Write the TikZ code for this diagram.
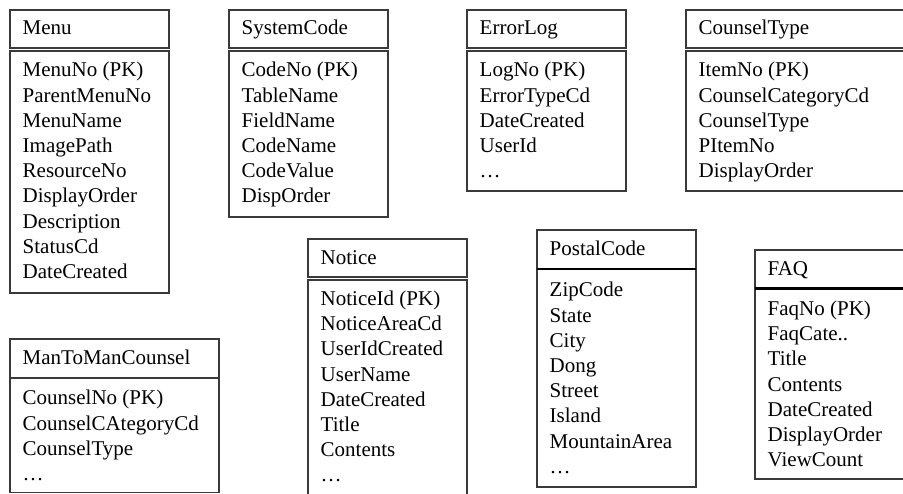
\documentclass[tikz,border=0pt]{standalone}
\usepackage{fontspec}
\setmainfont{Liberation Serif}
\definecolor{boxline}{HTML}{3A3A3A}
\newcommand\entryfont{\fontsize{21}{25}\selectfont}
\tikzset{
  tblframe/.style={draw=boxline, line width=1.3pt, inner sep=0pt, outer sep=0pt, anchor=north west},
  headrule/.style={draw=black, line width=2.6pt},
  entry/.style={anchor=base west, inner sep=0pt, font=\entryfont, text=black},
}
% one table frame: name, left, top, width, height
\newcommand\tblbox[5]{\node[tblframe, minimum width=#4, minimum height=#5] (#1) at (#2,#3) {};}
% field rows: name prefix, text left, first baseline, list of fields
\newcommand\tblrows[4]{\foreach \f [count=\i] in {#4}{\node[entry] (#1-\i) at (#2,{#3+(\i-1)*25.2}) {\f};}}
\begin{document}
\begin{tikzpicture}[x=1pt,y=-1pt]
\useasboundingbox (0,0) rectangle (903,494);
\clip (0,0) rectangle (903,494);

% Menu
\tblbox{menu-head}{10}{10}{159}{38}
\tblbox{menu-body}{10}{51}{159}{242}
\node[entry] (menu-title) at (22.5,35) {Menu};
\tblrows{menu}{22.5}{77}{MenuNo (PK),ParentMenuNo,MenuName,ImagePath,ResourceNo,DisplayOrder,Description,StatusCd,DateCreated}

% SystemCode
\tblbox{sys-head}{229}{10}{159}{38}
\tblbox{sys-body}{229}{51}{159}{166}
\node[entry] (sys-title) at (241.5,35) {SystemCode};
\tblrows{sys}{241.5}{77}{CodeNo (PK),TableName,FieldName,CodeName,CodeValue,DispOrder}

% ErrorLog
\tblbox{err-head}{467}{10}{159}{38}
\tblbox{err-body}{467}{51}{159}{140}
\node[entry] (err-title) at (479.5,35) {ErrorLog};
\tblrows{err}{479.5}{77}{LogNo (PK),ErrorTypeCd,DateCreated,UserId,…}

% CounselType
\tblbox{ctype-head}{686}{10}{230}{38}
\tblbox{ctype-body}{686}{51}{230}{140}
\node[entry] (ctype-title) at (698.5,35) {CounselType};
\tblrows{ctype}{698.5}{77}{ItemNo (PK),CounselCategoryCd,CounselType,PItemNo,DisplayOrder}

% Notice
\tblbox{notice-head}{308}{239}{159}{38}
\tblbox{notice-body}{308}{280}{159}{230}
\node[entry] (notice-title) at (320.5,265) {Notice};
\tblrows{notice}{320.5}{305.5}{NoticeId (PK),NoticeAreaCd,UserIdCreated,UserName,DateCreated,Title,Contents,…}

% PostalCode
\tblbox{postal-head}{537}{230}{159}{39}
\tblbox{postal-body}{537}{269}{159}{218}
\draw[headrule] (postal-head.south west) -- (postal-head.south east);
\node[entry] (postal-title) at (549.5,256) {PostalCode};
\tblrows{postal}{549.5}{297}{ZipCode,State,City,Dong,Street,Island,MountainArea,…}

% FAQ
\tblbox{faq-head}{755}{250}{160}{38.7}
\tblbox{faq-body}{755}{288.7}{160}{190.3}
\draw[headrule] (faq-head.south west) -- (faq-head.south east);
\node[entry] (faq-title) at (767.5,275.5) {FAQ};
\tblrows{faq}{767.5}{315.5}{FaqNo (PK),FaqCate..,Title,Contents,DateCreated,DisplayOrder,ViewCount}

% ManToManCounsel
\tblbox{mtm-head}{10}{339}{209}{39}
\tblbox{mtm-body}{10}{378}{209}{114.5}
\node[entry] (mtm-title) at (22.5,365) {ManToManCounsel};
\tblrows{mtm}{22.5}{405}{CounselNo (PK),CounselCAtegoryCd,CounselType,…}
\end{tikzpicture}
\end{document}
